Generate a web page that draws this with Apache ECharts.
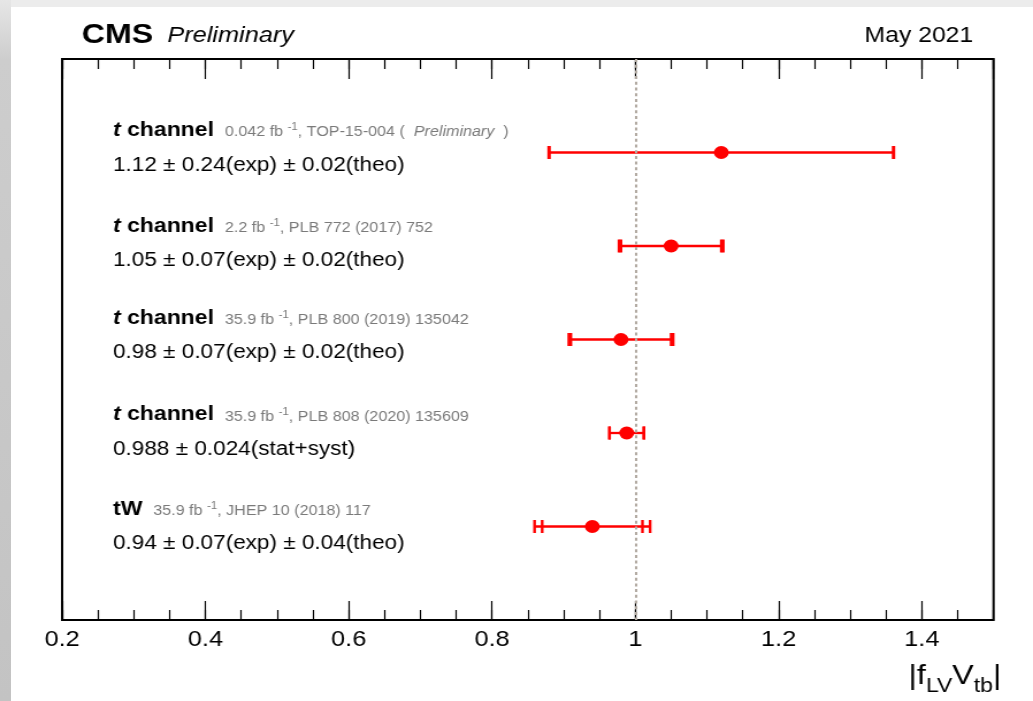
<!DOCTYPE html>
<html>
<head>
<meta charset="utf-8">
<script src="https://cdn.jsdelivr.net/npm/echarts@6/dist/echarts.min.js"></script>
<style>
html, body { margin: 0; padding: 0; background: #ffffff; width: 1033px; height: 701px; overflow: hidden; }
#stripT { position: absolute; left: 0; top: 0; width: 1033px; height: 7px; background: #ececec; }
#stripL { position: absolute; left: 0; top: 0; width: 11px; height: 701px;
  background: linear-gradient(to bottom, #e6e6e6 0px, #cdcdcd 60px, #c3c3c3 100%); }
#chart { position: absolute; left: 0; top: 0; width: 898px; height: 701px;
  transform: scaleX(1.150334); transform-origin: 0 0; }
</style>
</head>
<body>
<div id="stripT"></div>
<div id="stripL"></div>
<div id="chart"></div>
<script>
// ---------- data ----------
const channels = ['t channel', 't channel', 't channel', 't channel', 'tW'];
const lumis = ['0.042', '2.2', '35.9', '35.9', '35.9'];
const references = ['TOP-15-004', 'PLB 772 (2017) 752', 'PLB 800 (2019) 135042', 'PLB 808 (2020) 135609', 'JHEP 10 (2018) 117'];
const preliminaryFlags = [true, false, false, false, false];
const resultTexts = [
  '1.12 \u00b1 0.24(exp) \u00b1 0.02(theo)',
  '1.05 \u00b1 0.07(exp) \u00b1 0.02(theo)',
  '0.98 \u00b1 0.07(exp) \u00b1 0.02(theo)',
  '0.988 \u00b1 0.024(stat+syst)',
  '0.94 \u00b1 0.07(exp) \u00b1 0.04(theo)'
];
const centralValues = [1.12, 1.05, 0.98, 0.988, 0.94];
const expErrors = [0.24, 0.07, 0.07, 0.024, 0.07];
const theoErrors = [0.02, 0.02, 0.02, 0, 0.04];
const rowPositions = [1, 2, 3, 4, 5];
const labelRows = [0.95, 1.975, 2.96, 3.99, 5.0];
const smValue = 1;
const xMin = 0.2, xMax = 1.5, xMajor = 0.2, xMinor = 0.05;
const yMin = 0, yMax = 6;

// ---------- layout / style constants ----------
const FONT = "'Liberation Sans', Arial, Helvetica, sans-serif";
const labelAnchorX = 0.271;
const titleOffset = -17.3;
const valueOffset = 17.3;
const RED = '#ff0000';
const GRAY = '#7a7a7a';

const errData = centralValues.map((c, i) => {
  const tot = Math.sqrt(expErrors[i] * expErrors[i] + theoErrors[i] * theoErrors[i]);
  return [c, rowPositions[i], c - expErrors[i], c + expErrors[i], c - tot, c + tot];
});
const markerData = centralValues.map((c, i) => [c, rowPositions[i]]);
const labelData = labelRows.map((r, i) => [i, r]);

function titleRich(i) {
  const isTW = channels[i] === 'tW';
  let s = isTW ? '{b|tW }' : '{ti|t}{b| channel }';
  s += '{s| ' + lumis[i] + ' fb }{sup|-1}{s|, ' + references[i] + '}';
  if (preliminaryFlags[i]) s += '{s| (  }{si|Preliminary}{s|  )}';
  return s;
}

const richStyles = {
  ti: { fontFamily: FONT, fontSize: 20, fontWeight: 'bold', fontStyle: 'italic', fill: '#000', lineHeight: 24 },
  b: { fontFamily: FONT, fontSize: 20, fontWeight: 'bold', fill: '#000', lineHeight: 24 },
  s: { fontFamily: FONT, fontSize: 14, fill: GRAY, verticalAlign: 'bottom', padding: [0, 0, 3, 0] },
  si: { fontFamily: FONT, fontSize: 14, fontStyle: 'italic', fill: GRAY, verticalAlign: 'bottom', padding: [0, 0, 3, 0] },
  sup: { fontFamily: FONT, fontSize: 10, fill: GRAY, verticalAlign: 'bottom', padding: [0, 0, 10, 0] }
};

const chart = echarts.init(document.getElementById('chart'), null, { renderer: 'canvas' });

function xAxisDef(pos, interval, len, showLabel) {
  return {
    type: 'value', position: pos, offset: 0, min: xMin, max: xMax, interval: interval,
    axisLine: { show: false, onZero: false },
    axisTick: { show: true, inside: true, length: len, lineStyle: { color: '#000', width: 1.2 } },
    axisLabel: showLabel ? {
      show: true, margin: 9, color: '#000', fontFamily: FONT, fontSize: 22, showMaxLabel: false
    } : { show: false },
    splitLine: { show: false },
    minorTick: { show: false }
  };
}

const option = {
  animation: false,
  backgroundColor: 'transparent',
  grid: {
    left: 54, right: 34.3, top: 59, bottom: 81,
    show: true, borderColor: '#000', borderWidth: 2, backgroundColor: 'transparent'
  },
  xAxis: [
    xAxisDef('bottom', xMajor, 19, true),
    xAxisDef('bottom', xMinor, 10, false),
    xAxisDef('top', xMajor, 20, false),
    xAxisDef('top', xMinor, 10, false)
  ],
  yAxis: { type: 'value', min: yMin, max: yMax, inverse: true, show: false, axisLine: { onZero: false } },
  graphic: [
    { type: 'text', x: 71, y: 35, style: { text: 'CMS', font: 'bold 28px ' + FONT, fill: '#000', align: 'left', verticalAlign: 'middle' } },
    { type: 'text', x: 145.5, y: 35.5, style: { text: 'Preliminary', font: 'italic 22px ' + FONT, fill: '#000', align: 'left', verticalAlign: 'middle' } },
    { type: 'text', x: 846, y: 35.8, style: { text: 'May 2021', font: '21.5px ' + FONT, fill: '#000', align: 'right', verticalAlign: 'middle' } },
    { type: 'text', x: 870.5, y: 676, style: {
        text: '{m||f}{sub|LV}{m|V}{sub|tb}{m||}', align: 'right', verticalAlign: 'middle',
        rich: {
          m: { fontFamily: FONT, fontSize: 28, fill: '#000', lineHeight: 40 },
          sub: { fontFamily: FONT, fontSize: 20, fill: '#000', verticalAlign: 'bottom' }
        }
      } }
  ],
  series: [
    {
      type: 'line', name: 'SM', data: [], z: 1, silent: true,
      markLine: {
        silent: true, symbol: 'none', label: { show: false },
        lineStyle: { color: '#b3aba3', width: 2, type: [3, 2.7] },
        data: [{ xAxis: smValue }]
      }
    },
    {
      type: 'custom', name: 'errors', z: 3, silent: true,
      data: errData,
      renderItem: function (params, api) {
        const y = api.value(1);
        const loE = api.coord([api.value(2), y]);
        const hiE = api.coord([api.value(3), y]);
        const loT = api.coord([api.value(4), y]);
        const hiT = api.coord([api.value(5), y]);
        const h = 6.5;
        const ls = { stroke: RED, lineWidth: 2.3 };
        const cs = { stroke: RED, lineWidth: 2.4 };
        const cap = (p) => ({ type: 'line', shape: { x1: p[0], y1: p[1] - h, x2: p[0], y2: p[1] + h }, style: cs });
        return {
          type: 'group',
          children: [
            { type: 'line', shape: { x1: loT[0], y1: loT[1], x2: hiT[0], y2: hiT[1] }, style: ls },
            cap(loE), cap(hiE), cap(loT), cap(hiT)
          ]
        };
      }
    },
    {
      type: 'scatter', name: 'measurement', z: 4, silent: true,
      data: markerData, symbol: 'circle', symbolSize: 13,
      itemStyle: { color: RED, opacity: 1 }
    },
    {
      type: 'custom', name: 'labels', z: 5, silent: true,
      data: labelData,
      renderItem: function (params, api) {
        const i = api.value(0);
        const p = api.coord([labelAnchorX, api.value(1)]);
        return {
          type: 'group',
          children: [
            { type: 'text', x: p[0], y: p[1] + titleOffset,
              style: { text: titleRich(i), rich: richStyles, align: 'left', verticalAlign: 'middle',
                       fontFamily: FONT, fontSize: 20, fill: '#000' } },
            { type: 'text', x: p[0], y: p[1] + valueOffset,
              style: { text: resultTexts[i], fontFamily: FONT, fontSize: 19.6, fill: '#000',
                       align: 'left', verticalAlign: 'middle' } }
          ]
        };
      }
    }
  ]
};
chart.setOption(option);
</script>
</body>
</html>
